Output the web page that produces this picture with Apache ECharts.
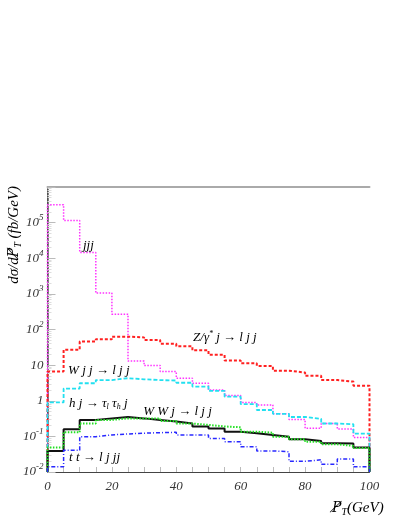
<!DOCTYPE html>
<html>
<head>
<meta charset="utf-8">
<script src="https://cdn.jsdelivr.net/npm/echarts@6/dist/echarts.min.js"></script>
<style>
  html, body { margin: 0; padding: 0; background: #fff; }
  #chart { width: 409px; height: 529px; }
</style>
</head>
<body>
<div id="chart"></div>
<script>
// bin lower edges (GeV), bins are 5 GeV wide
var binStart = [0, 5, 10, 15, 20, 25, 30, 35, 40, 45, 50, 55, 60, 65, 70, 75, 80, 85, 90, 95];
var binEnd = 100;

// dsigma/dPT (fb/GeV)
var jjj = [3.2e5, 1.15e5, 1.45e4, 1.05e3, 270, 13, 9.8, 6.6, 4.3, 3.1, 2.0, 1.4, 0.89, 0.76, 0.43, 0.30, 0.17, 0.23, 0.16, 0.093];
var zjLjj = [6.6, 27, 46, 53, 63, 60, 51, 40, 34, 26, 19.5, 13.4, 11.3, 9.5, 7.0, 6.2, 5.0, 3.8, 3.45, 2.65];
var wjjLjj = [0.9, 2.2, 3.1, 3.8, 4.3, 4.0, 3.8, 3.7, 3.2, 2.5, 1.9, 1.3, 0.8, 0.55, 0.43, 0.35, 0.31, 0.23, 0.22, 0.12];
var hjTauTau = [0.049, 0.13, 0.23, 0.29, 0.32, 0.32, 0.32, 0.27, 0.23, 0.21, 0.19, 0.18, 0.135, 0.127, 0.098, 0.083, 0.071, 0.060, 0.054, 0.047];
var wwjLjj = [0.039, 0.158, 0.29, 0.32, 0.35, 0.32, 0.29, 0.26, 0.23, 0.19, 0.166, 0.135, 0.123, 0.11, 0.098, 0.083, 0.074, 0.064, 0.063, 0.049];
var ttLjjj = [0.014, 0.041, 0.098, 0.11, 0.117, 0.123, 0.127, 0.13, 0.11, 0.11, 0.087, 0.071, 0.051, 0.039, 0.037, 0.020, 0.022, 0.0165, 0.023, 0.014];

var yMin = 0.01, yMax = 1e6;
var xTickLabels = [0, 20, 40, 60, 80, 100];

// text labels: [text(rich), x, y] in data coordinates
var labels = [
  ['{t|jjj}', 11, 2.2e4],
  ['{t|Z/γ}{s|*}{t| j → l j j}', 45.2, 58],
  ['{t|W j j → l j j}', 6.4, 6.9],
  ['{t|h j → τ}{b|l}{t| τ}{b|h}{t| j}', 6.7, 0.81],
  ['{t|W W j → l j j}', 29.7, 0.49],
  ['{t|t t → l j jj}', 6.7, 0.025]
];

var serif = '"Liberation Serif", "DejaVu Serif", serif';

// histogram outline, closed down to the axis at both ends
function steps(vals) {
  var d = [[binStart[0], yMin]];
  for (var i = 0; i < vals.length; i++) d.push([binStart[i], vals[i]]);
  d.push([binEnd, vals[vals.length - 1]]);
  d.push([binEnd, yMin]);
  return d;
}

function histo(name, vals, color, width, type) {
  return {
    name: name,
    type: 'line',
    step: 'end',
    showSymbol: false,
    silent: true,
    animation: false,
    data: steps(vals),
    lineStyle: { color: color, width: width, type: type }
  };
}

var chart = echarts.init(document.getElementById('chart'));

var richText = {
  t: { fontFamily: serif, fontStyle: 'italic', fontSize: 13, color: '#222' },
  s: { fontFamily: serif, fontStyle: 'italic', fontSize: 8, color: '#222', padding: [0, 0, 9, 0] },
  b: { fontFamily: serif, fontStyle: 'italic', fontSize: 8, color: '#222', padding: [6, 0, 0, 0] }
};
var titleText = {
  t: { fontFamily: serif, fontStyle: 'italic', fontSize: 15, color: '#222' },
  p: { fontFamily: '"DejaVu Serif", serif', fontStyle: 'italic', fontSize: 14, color: '#222' },
  b: { fontFamily: serif, fontStyle: 'italic', fontSize: 10, color: '#222', padding: [8, 0, 0, 0] }
};

chart.setOption({
  backgroundColor: '#fff',
  animation: false,
  grid: { left: 47.5, right: 39.5, top: 187, bottom: 57 },
  xAxis: [
    {
      type: 'value', min: 0, max: 100, interval: 5,
      axisLine: { lineStyle: { color: '#444', width: 1 } },
      axisTick: { inside: true, length: 5, lineStyle: { color: '#bbb' } },
      splitLine: { show: false },
      axisLabel: {
        margin: 8,
        fontFamily: serif, fontStyle: 'italic', fontSize: 13, color: '#333',
        formatter: function (v) { return xTickLabels.indexOf(v) >= 0 ? String(v) : ''; }
      }
    },
    {
      type: 'value', min: 0, max: 100, position: 'top',
      axisLine: { show: true, lineStyle: { color: '#aaa', width: 2 } },
      axisTick: { show: false }, axisLabel: { show: false }, splitLine: { show: false }
    }
  ],
  yAxis: [
    {
      type: 'log', logBase: 10, min: yMin, max: yMax, splitNumber: 8,
      axisLine: { show: true, lineStyle: { color: '#444', width: 1 } },
      axisTick: { inside: true, length: 8, lineStyle: { color: '#bbb' } },
      minorTick: { show: true, splitNumber: 9, length: 4, lineStyle: { color: '#ddd' } },
      splitLine: { show: false },
      axisLabel: {
        margin: 4,
        formatter: function (v) {
          var e = Math.round(Math.log(v) / Math.LN10);
          if (e === 0) return '{t|1}';
          if (e === 1) return '{t|10}';
          if (e >= 6) return '';
          return '{t|10}{s|' + e + '}';
        },
        rich: {
          t: { fontFamily: serif, fontStyle: 'italic', fontSize: 13, color: '#333' },
          s: { fontFamily: serif, fontStyle: 'italic', fontSize: 9, color: '#333', padding: [0, 0, 10, 0] }
        }
      }
    },
    {
      type: 'log', logBase: 10, min: yMin, max: yMax, position: 'right',
      axisLine: { show: true, lineStyle: { color: '#555', width: 1.5 } },
      axisTick: { show: false }, axisLabel: { show: false }, splitLine: { show: false }
    }
  ],
  series: [
    histo('jjj', jjj, '#ff33ff', 1.5, [1.5, 1.5]),
    histo('Z/γ* j → l j j', zjLjj, '#ff2020', 2, [3, 2]),
    histo('W j j → l j j', wjjLjj, '#22e0f0', 1.8, [4, 2]),
    histo('W W j → l j j', wwjLjj, '#111', 2, 'solid'),
    histo('h j → τl τh j', hjTauTau, '#22e022', 2, [1.5, 1.5]),
    histo('t t → l j jj', ttLjjj, '#2828ff', 1.5, [4, 2, 1, 2])
  ]
});

// place annotations through the axis scales
var g = labels.map(function (l) {
  var p = chart.convertToPixel({ gridIndex: 0 }, [l[1], l[2]]);
  return {
    type: 'text', x: p[0], y: p[1], z: 10,
    style: { text: l[0], rich: richText, align: 'left', verticalAlign: 'middle' }
  };
});

// axis titles
g.push({
  type: 'text', x: 14, y: 186, rotation: Math.PI / 2, z: 10,
  style: {
    text: '{t|dσ/d}{p|P̸}{b|T}{t| (fb/GeV)}',
    rich: titleText, align: 'right', verticalAlign: 'middle'
  }
});
g.push({
  type: 'text', x: 332, y: 508, z: 10,
  style: {
    text: '{p|P̸}{b|T}{t|(GeV)}',
    rich: titleText, align: 'left', verticalAlign: 'middle'
  }
});

chart.setOption({ graphic: g });
</script>
</body>
</html>
